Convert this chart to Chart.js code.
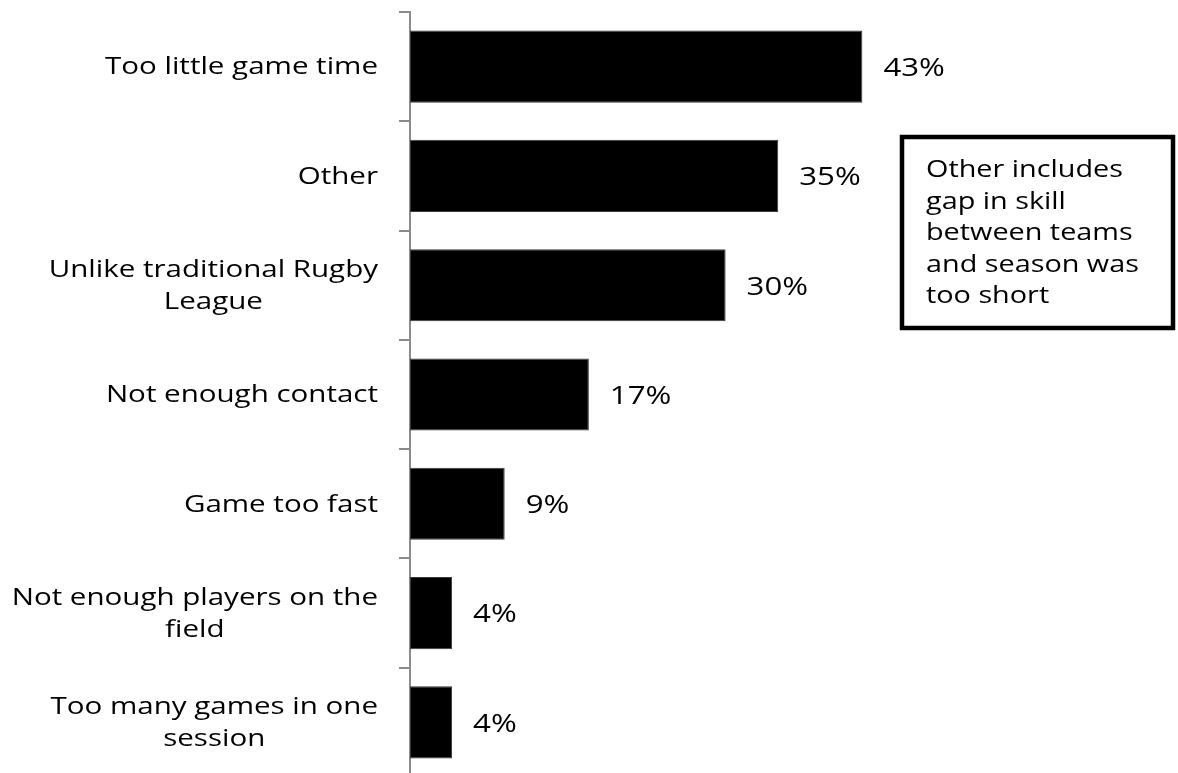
<!DOCTYPE html>
<html>
<head>
<meta charset="utf-8">
<title>Reasons for dissatisfaction</title>
<script src="https://cdn.jsdelivr.net/npm/chart.js@4/dist/chart.umd.min.js"></script>
<style>
  html, body { margin: 0; padding: 0; background: #fff; overflow: hidden; }
  #wrap { position: relative; width: 1178px; height: 785px; }
</style>
</head>
<body>
<div id="wrap"><canvas id="canvas"></canvas></div>
<script>
// survey answers, top to bottom
let reasons = [
  'Too little game time',
  'Other',
  ['Unlike traditional Rugby', 'League'],
  'Not enough contact',
  'Game too fast',
  ['Not enough players on the', 'field'],
  ['Too many games in one', 'session']
];
let shares = [43, 35, 30, 17, 9, 4, 4];
let noteLines = ['Other includes', 'gap in skill', 'between teams', 'and season was', 'too short'];

let FONT = '24px "Open Sans", sans-serif';
let VALUE_FONT = '26px "Open Sans", sans-serif';
let AXIS_GREY = '#8c8c8c';

// fillText with wide letterforms
let wideText = function(ctx, text, x, y, stretch) {
  ctx.save();
  ctx.translate(x, y);
  ctx.scale(stretch, 1);
  ctx.fillText(text, 0, 0);
  ctx.restore();
};

// category names: block right aligned against the axis, lines centred inside the block
let reasonLabels = {
  id: 'reasonLabels',
  afterDraw(chart) {
    let ctx = chart.ctx;
    let yScale = chart.scales.y;
    let stretch = 1.23;
    ctx.save();
    ctx.font = FONT;
    ctx.fillStyle = '#000';
    ctx.textAlign = 'center';
    ctx.textBaseline = 'middle';
    reasons.forEach(function(label, i) {
      let lines = Array.isArray(label) ? label : [label];
      let widest = Math.max.apply(null, lines.map(l => ctx.measureText(l).width)) * stretch;
      let cx = 378 - widest / 2;
      let cy = yScale.getPixelForValue(i);
      lines.forEach(function(line, j) {
        wideText(ctx, line, cx, cy + (j - (lines.length - 1) / 2) * 32 + 1, stretch);
      });
    });
    ctx.restore();
  }
};

// percentages just past the end of each bar
let valueLabels = {
  id: 'valueLabels',
  afterDatasetsDraw(chart) {
    let ctx = chart.ctx;
    let meta = chart.getDatasetMeta(0);
    ctx.save();
    ctx.font = VALUE_FONT;
    ctx.fillStyle = '#000';
    ctx.textAlign = 'left';
    ctx.textBaseline = 'middle';
    meta.data.forEach(function(bar, i) {
      wideText(ctx, shares[i] + '%', bar.x + 21, bar.y + 2, 1.2);
    });
    ctx.restore();
  }
};

// boxed note explaining the "Other" category
let noteBox = {
  id: 'noteBox',
  afterDraw(chart) {
    let ctx = chart.ctx;
    ctx.save();
    ctx.strokeStyle = '#000';
    ctx.lineWidth = 4.5;
    ctx.strokeRect(902, 137, 271, 191);
    ctx.font = FONT;
    ctx.fillStyle = '#000';
    ctx.textAlign = 'left';
    ctx.textBaseline = 'alphabetic';
    noteLines.forEach(function(line, i) {
      wideText(ctx, line, 926, 177 + i * 31.5, 1.2);
    });
    ctx.restore();
  }
};

let ctx = document.getElementById('canvas').getContext('2d');

window.my_chart = new Chart(ctx, {
  type: 'bar',
  data: {
    labels: reasons,
    datasets: [
      {
        data: shares,
        backgroundColor: '#000',
        borderColor: '#3a3a3a',
        borderWidth: 1,
        borderSkipped: false,
        categoryPercentage: 1,
        barPercentage: 0.66
      }
    ]
  },
  options: {
    indexAxis: 'y',
    responsive: true,
    maintainAspectRatio: false,
    animation: false,
    layout: { padding: { top: 12, bottom: 8, left: 0, right: 0 } },
    plugins: {
      legend: { display: false },
      tooltip: { enabled: false }
    },
    scales: {
      x: {
        display: false,
        min: 0,
        max: 73
      },
      y: {
        afterFit: function(scale) { scale.width = 410; },
        ticks: { display: false },
        grid: {
          drawOnChartArea: false,
          drawTicks: true,
          tickLength: 11,
          color: AXIS_GREY,
          lineWidth: 2
        },
        border: { display: true, color: AXIS_GREY, width: 2 }
      }
    }
  },
  plugins: [reasonLabels, valueLabels, noteBox]
});
</script>
</body>
</html>
